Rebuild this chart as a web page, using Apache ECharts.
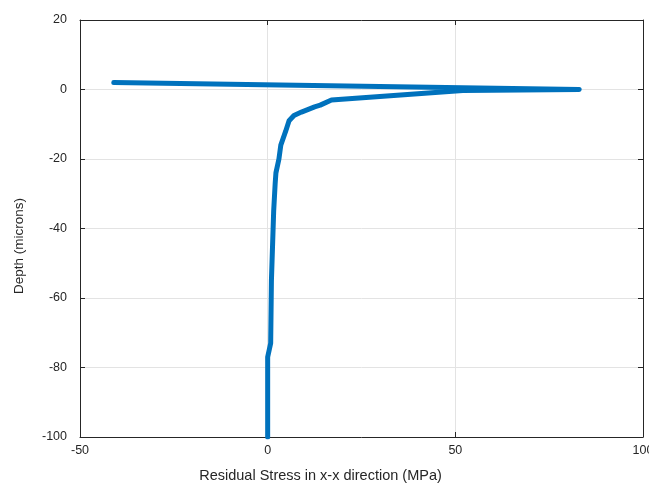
<!DOCTYPE html>
<html>
<head>
<meta charset="utf-8">
<script src="https://cdn.jsdelivr.net/npm/echarts@6/dist/echarts.min.js"></script>
<style>
  html, body { margin: 0; padding: 0; background: #fff; }
  #chart { width: 649px; height: 487px; }
</style>
</head>
<body>
<div id="chart"></div>
<script>
// residual stress (MPa) vs depth (microns)
var stress = [-41, 83, 52, 17, 14, 12.5, 9, 7, 5.7, 4.8, 3.5, 3.0, 2.2, 2.0, 1.6, 1.0, 0.8, 0, 0];
var depth  = [2, 0, -0.3, -3, -4.5, -5, -6.5, -7.5, -9, -12, -16, -20, -24, -27, -35, -55, -73, -77, -100];

var xTicks = [-50, 0, 50, 100];
var yTicks = [-100, -80, -60, -40, -20, 0, 20];

var points = [];
for (var i = 0; i < stress.length; i++) {
    points.push([stress[i], depth[i]]);
}

var axisColor = '#262626';
var font = 'Liberation Sans, Arial, sans-serif';

var myChart = echarts.init(document.getElementById('chart'));

var option = {
    backgroundColor: '#fff',
    animation: false,
    grid: { left: 80, right: 6, top: 20, bottom: 50, outerBoundsMode: 'none' },
    xAxis: [
        {
            type: 'value',
            min: xTicks[0], max: xTicks[xTicks.length - 1], interval: 50,
            name: 'Residual Stress in x-x direction (MPa)',
            nameLocation: 'middle', nameGap: 31,
            // label sits left of the axes centre in the original
            nameTextStyle: { color: axisColor, fontSize: 14.5, fontFamily: font, padding: [0, 82, 0, 0] },
            axisLine: { show: true, onZero: false, lineStyle: { color: axisColor, width: 1 } },
            axisTick: { show: true, inside: true, length: 5, lineStyle: { color: axisColor } },
            axisLabel: { color: axisColor, fontSize: 12.5, fontFamily: font, margin: 7 },
            splitLine: { show: true, lineStyle: { color: '#e3e3e3', width: 1 } }
        },
        {
            type: 'value', position: 'top',
            min: xTicks[0], max: xTicks[xTicks.length - 1], interval: 50,
            axisLine: { show: true, onZero: false, lineStyle: { color: axisColor, width: 1 } },
            axisTick: { show: true, inside: true, length: 5, lineStyle: { color: axisColor } },
            axisLabel: { show: false },
            splitLine: { show: false }
        }
    ],
    yAxis: [
        {
            type: 'value',
            min: yTicks[0], max: yTicks[yTicks.length - 1], interval: 20,
            name: 'Depth (microns)',
            nameLocation: 'middle', nameGap: 54,
            nameTextStyle: { color: axisColor, fontSize: 13.5, fontFamily: font, padding: [0, 35, 0, 0] },
            axisLine: { show: true, onZero: false, lineStyle: { color: axisColor, width: 1 } },
            axisTick: { show: true, inside: true, length: 5, lineStyle: { color: axisColor } },
            axisLabel: { color: axisColor, fontSize: 12.5, fontFamily: font, margin: 13 },
            splitLine: { show: true, lineStyle: { color: '#e3e3e3', width: 1 } }
        },
        {
            type: 'value', position: 'right',
            min: yTicks[0], max: yTicks[yTicks.length - 1], interval: 20,
            axisLine: { show: true, onZero: false, lineStyle: { color: axisColor, width: 1 } },
            axisTick: { show: true, inside: true, length: 5, lineStyle: { color: axisColor } },
            axisLabel: { show: false },
            splitLine: { show: false }
        }
    ],
    series: [
        {
            type: 'line',
            data: points,
            xAxisIndex: 0, yAxisIndex: 0,
            showSymbol: false,
            lineStyle: { color: '#0072BD', width: 5, cap: 'round', join: 'round' },
            z: 3
        }
    ]
};

myChart.setOption(option);
</script>
</body>
</html>
